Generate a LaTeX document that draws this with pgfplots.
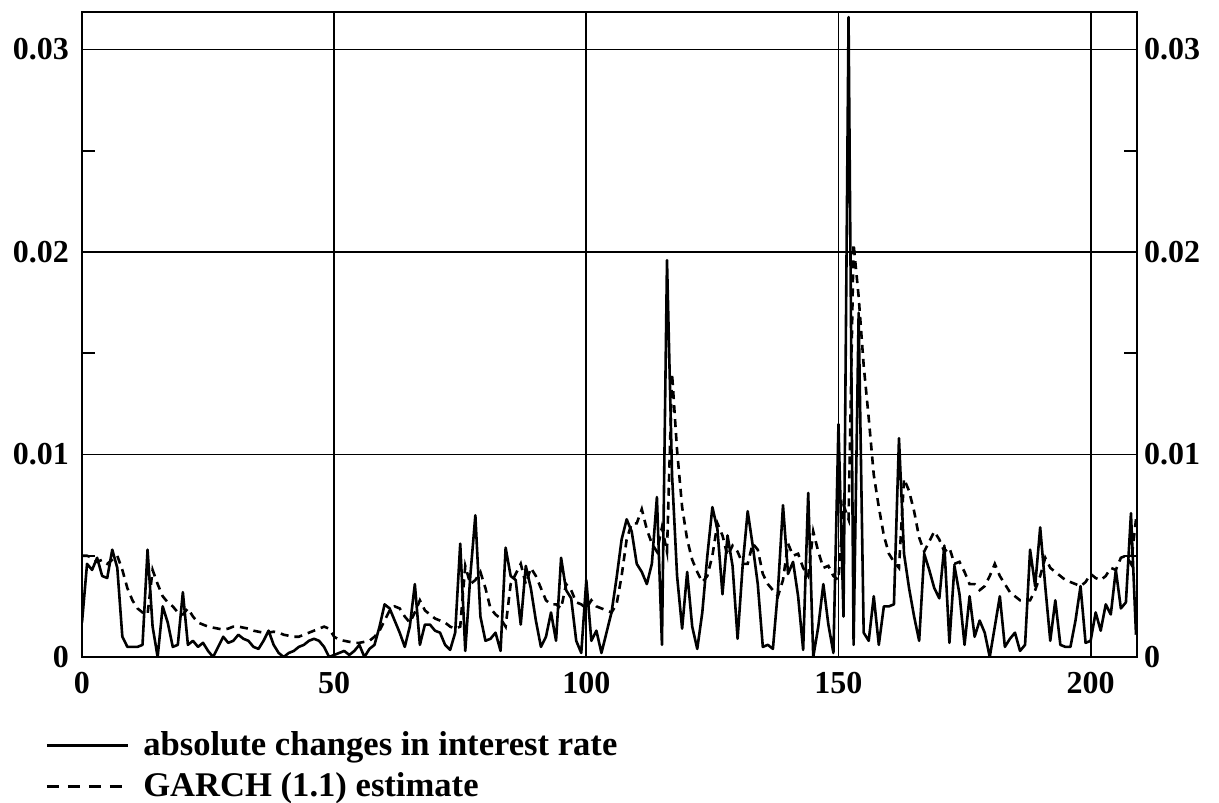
\documentclass[border=0pt]{standalone}
\usepackage{fontspec}
\setmainfont{Liberation Serif}
\usepackage{pgfplots}
\usepackage{pgfplotstable}
\pgfplotsset{compat=1.18}
% values in units of 0.001
\pgfplotstableread{
x y
0 1.7
1 4.6
2 4.3
3 4.9
4 4.0
5 3.9
6 5.3
7 4.4
8 1.0
9 0.5
10 0.5
11 0.5
12 0.6
13 5.3
14 1.5
15 0.0
16 2.5
17 1.7
18 0.5
19 0.6
20 3.2
21 0.6
22 0.8
23 0.5
24 0.7
25 0.3
26 0.0
27 0.5
28 1.0
29 0.7
30 0.8
31 1.1
32 0.9
33 0.8
34 0.5
35 0.4
36 0.8
37 1.3
38 0.6
39 0.2
40 0.0
41 0.2
42 0.3
43 0.5
44 0.6
45 0.8
46 0.9
47 0.8
48 0.5
49 0.0
50 0.1
51 0.2
52 0.3
53 0.1
54 0.3
55 0.6
56 0.0
57 0.4
58 0.6
59 1.5
60 2.6
61 2.4
62 1.8
63 1.2
64 0.5
65 1.5
66 3.6
67 0.6
68 1.6
69 1.6
70 1.3
71 1.2
72 0.6
73 0.35
74 1.2
75 5.6
76 0.3
77 4.0
78 7.0
79 2.0
80 0.8
81 0.9
82 1.2
83 0.3
84 5.4
85 4.0
86 3.8
87 1.6
88 4.5
89 3.4
90 1.8
91 0.5
92 1.0
93 2.2
94 0.8
95 4.9
96 3.3
97 2.9
98 0.8
99 0.2
100 3.8
101 0.8
102 1.3
103 0.2
104 1.2
105 2.2
106 3.9
107 5.8
108 6.8
109 6.2
110 4.6
111 4.2
112 3.6
113 4.6
114 7.9
115 0.6
116 19.6
117 9.0
118 4.0
119 1.4
120 4.2
121 1.5
122 0.4
123 2.2
124 5.0
125 7.4
126 6.3
127 3.1
128 6.0
129 4.5
130 0.9
131 4.5
132 7.2
133 5.5
134 3.6
135 0.5
136 0.6
137 0.4
138 3.3
139 7.5
140 4.1
141 4.7
142 3.0
143 0.35
144 8.1
145 0.0
146 1.5
147 3.6
148 1.6
149 0.2
150 11.5
151 2.0
152 31.6
153 0.6
154 17.0
155 1.2
156 0.8
157 3.0
158 0.6
159 2.5
160 2.5
161 2.6
162 10.8
163 5.1
164 3.4
165 2.0
166 0.8
167 5.1
168 4.3
169 3.4
170 2.9
171 5.5
172 0.7
173 4.5
174 3.1
175 0.6
176 3.0
177 1.0
178 1.8
179 1.2
180 0.0
181 1.5
182 3.0
183 0.5
184 0.9
185 1.2
186 0.3
187 0.6
188 5.3
189 3.5
190 6.4
191 3.5
192 0.8
193 2.8
194 0.6
195 0.5
196 0.5
197 1.8
198 3.5
199 0.7
200 0.8
201 2.2
202 1.3
203 2.6
204 2.1
205 4.3
206 2.4
207 2.7
208 7.1
209 1.1
}\abschg
\pgfplotstableread{
x y
0 5.0
1 5.0
2 4.9
3 4.7
4 4.8
5 4.6
6 4.8
7 5.0
8 4.3
9 3.4
10 2.8
11 2.4
12 2.2
13 2.1
14 4.3
15 3.6
16 3.0
17 2.7
18 2.5
19 2.2
20 2.1
21 2.4
22 2.0
23 1.7
24 1.6
25 1.5
26 1.45
27 1.4
28 1.35
29 1.4
30 1.5
31 1.5
32 1.45
33 1.4
34 1.3
35 1.25
36 1.2
37 1.2
38 1.25
39 1.2
40 1.1
41 1.05
42 1.0
43 1.0
44 1.1
45 1.2
46 1.3
47 1.4
48 1.5
49 1.4
50 1.0
51 0.85
52 0.8
53 0.75
54 0.7
55 0.7
56 0.75
57 0.8
58 1.0
59 1.3
60 1.8
61 2.3
62 2.5
63 2.4
64 2.0
65 1.7
66 2.2
67 2.8
68 2.3
69 2.1
70 1.9
71 1.8
72 1.7
73 1.5
74 1.4
75 1.5
76 4.5
77 3.6
78 3.8
79 4.2
80 3.4
81 2.4
82 2.1
83 1.9
84 1.5
85 3.6
86 4.1
87 4.6
88 3.6
89 4.4
90 4.0
91 3.4
92 2.8
93 2.6
94 2.6
95 2.4
96 3.6
97 3.3
98 2.7
99 2.6
100 2.4
101 2.8
102 2.5
103 2.4
104 2.3
105 2.2
106 2.6
107 4.0
108 5.8
109 6.6
110 6.6
111 7.3
112 6.3
113 5.6
114 5.2
115 6.4
116 5.2
117 14.0
118 10.2
119 7.4
120 5.8
121 4.8
122 4.2
123 3.7
124 4.0
125 5.0
126 6.6
127 6.0
128 5.0
129 5.5
130 5.2
131 4.6
132 4.6
133 5.6
134 5.3
135 4.1
136 3.6
137 3.3
138 3.0
139 3.8
140 5.6
141 5.0
142 5.1
143 4.4
144 4.0
145 6.2
146 5.2
147 4.4
148 4.5
149 4.0
150 3.8
151 7.5
152 6.8
153 20.4
154 17.8
155 14.4
156 11.8
157 9.0
158 7.4
159 6.0
160 5.1
161 4.7
162 4.4
163 8.8
164 8.2
165 7.2
166 5.9
167 5.2
168 5.7
169 6.2
170 5.8
171 5.2
172 5.4
173 4.6
174 4.7
175 4.2
176 3.6
177 3.6
178 3.3
179 3.5
180 4.0
181 4.6
182 4.0
183 3.6
184 3.2
185 3.0
186 2.8
187 2.8
188 2.8
189 3.3
190 4.0
191 4.9
192 4.4
193 4.2
194 4.0
195 3.8
196 3.7
197 3.6
198 3.5
199 3.7
200 4.1
201 3.9
202 3.8
203 4.0
204 4.4
205 4.3
206 4.9
207 5.0
208 4.6
209 6.8
}\garch
\begin{document}
\begin{tikzpicture}
\pgfplotsset{
  common/.style={
    scale only axis, width=527.5pt, height=322.5pt,
    xmin=0, xmax=209.2, ymin=0, ymax=31.85,
    ytick={0,10,20,30}, yticklabels={0,0.01,0.02,0.03},
    ticklabel style={font=\bfseries\fontsize{16}{19}\selectfont},
  }
}
\begin{axis}[common,
  xtick={0,50,100,150,200}, xticklabels={0,50,100,150,200},
  minor ytick={5,15,25},
  ytick pos=both, xtick pos=bottom,
  tick align=inside,
  grid=major, major grid style={black, line width=0.9pt},
  axis line style={black, line width=1pt},
  major tick length=0pt, minor tick length=6.5pt,
  minor tick style={black, line width=0.9pt},
  yticklabel style={xshift=-3pt},
  xticklabel style={yshift=-4pt},
  legend style={at={(-0.0405,-0.103)}, anchor=north west, draw=none, fill=none,
    font=\bfseries\fontsize{17.3}{20}\selectfont, row sep=3pt, column sep=5pt},
  legend cell align=left,
  legend image code/.code={\draw[#1] (0pt,0pt) -- (40.5pt,0pt);},
]
\addplot[black, line width=1.3pt, line join=round] table[x=x,y=y] {\abschg};
\addlegendentry{absolute changes in interest rate}
\addplot[black, line width=1.3pt, dash pattern=on 4pt off 3pt,
  legend image post style={dash pattern=on 6pt off 4.5pt}] table[x=x,y=y] {\garch};
\addlegendentry{GARCH (1.1) estimate}
\end{axis}
\begin{axis}[common,
  hide x axis, axis y line*=right,
  y axis line style={draw=none},
  ytick style={draw=none},
  yticklabel style={xshift=0pt},
]
\end{axis}
\pgfresetboundingbox
\path[use as bounding box] (-41pt,-72.5pt) rectangle (568.5pt,328.5pt);
\end{tikzpicture}
\end{document}
